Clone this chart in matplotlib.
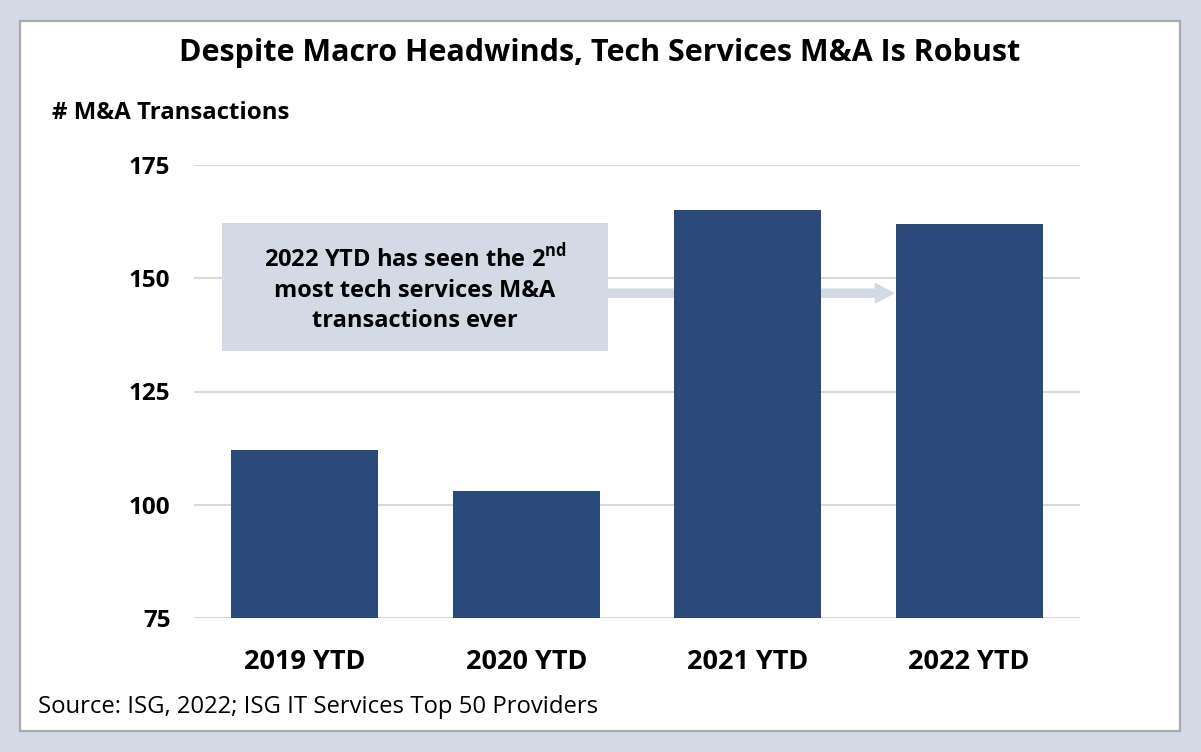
import matplotlib.pyplot as plt
from matplotlib.patches import Rectangle

plt.rcParams['font.family'] = ['Open Sans', 'DejaVu Sans']
plt.rcParams['mathtext.fontset'] = 'custom'
plt.rcParams['mathtext.rm'] = 'Open Sans:bold'
plt.rcParams['mathtext.bf'] = 'Open Sans:bold'

years = ["2019 YTD", "2020 YTD", "2021 YTD", "2022 YTD"]
deals = [112, 103, 165, 162]
y_ticks = [75, 100, 125, 150, 175]

bar_color = "#2a4a7b"
pale = "#d3d9e5"

fig = plt.figure(figsize=(12.01, 7.52), dpi=100)
fig.patch.set_facecolor(pale)
# white panel with grey border, kept behind the axes
fig.patches.append(Rectangle((20 / 1201, 1 - 731 / 752), 1160 / 1201, 710 / 752,
                             transform=fig.transFigure, facecolor="white",
                             edgecolor="#a9a9a9", linewidth=1.6, zorder=-5))

ax = fig.add_axes([194 / 1201, 1 - 618 / 752, 886 / 1201, 453 / 752])
ax.set_facecolor("none")
x = range(len(years))
ax.bar(x, deals, width=0.665, color=bar_color, zorder=3)
ax.set_xlim(-0.5, len(years) - 0.5)
ax.set_ylim(75, 175)
ax.set_yticks(y_ticks)
ax.set_yticklabels([str(t) for t in y_ticks], fontsize=17.5, fontweight="bold")
ax.set_xticks(list(x))
ax.set_xticklabels(years, fontsize=19.5, fontweight="bold")
ax.tick_params(length=0)
ax.tick_params(axis="y", pad=17)
ax.tick_params(axis="x", pad=22)
ax.grid(axis="y", color="#d9d9d9", linewidth=1.5, zorder=0)
for s in ax.spines.values():
    s.set_visible(False)

# callout box and arrow
ax.add_patch(Rectangle((-0.374, 133.9), 1.743, 28.3, facecolor=pale,
                       edgecolor="none", zorder=2))
ax.annotate("", xy=(2.658, 146.7), xytext=(1.369, 146.7),
            arrowprops=dict(arrowstyle="simple,head_width=1.37,head_length=1.3,tail_width=0.58",
                            mutation_scale=10, color=pale, shrinkA=0, shrinkB=0),
            zorder=1)
ax.text(0.498, 147.7,
        "2022 YTD has seen the 2$^{\\mathrm{nd}}$\nmost tech services M&A\ntransactions ever",
        ha="center", va="center", fontsize=17, fontweight="bold",
        linespacing=1.3, zorder=4)

fig.text(600 / 1201, 1 - 53 / 752, "Despite Macro Headwinds, Tech Services M&A Is Robust",
         ha="center", va="center", fontsize=22, fontweight="bold")
fig.text(52 / 1201, 1 - 113 / 752, "# M&A Transactions",
         ha="left", va="center", fontsize=17.3, fontweight="bold")
fig.text(38 / 1201, 1 - 707 / 752, "Source: ISG, 2022; ISG IT Services Top 50 Providers",
         ha="left", va="center", fontsize=17.2)

fig.savefig("out.png", dpi=100, facecolor=fig.get_facecolor())
